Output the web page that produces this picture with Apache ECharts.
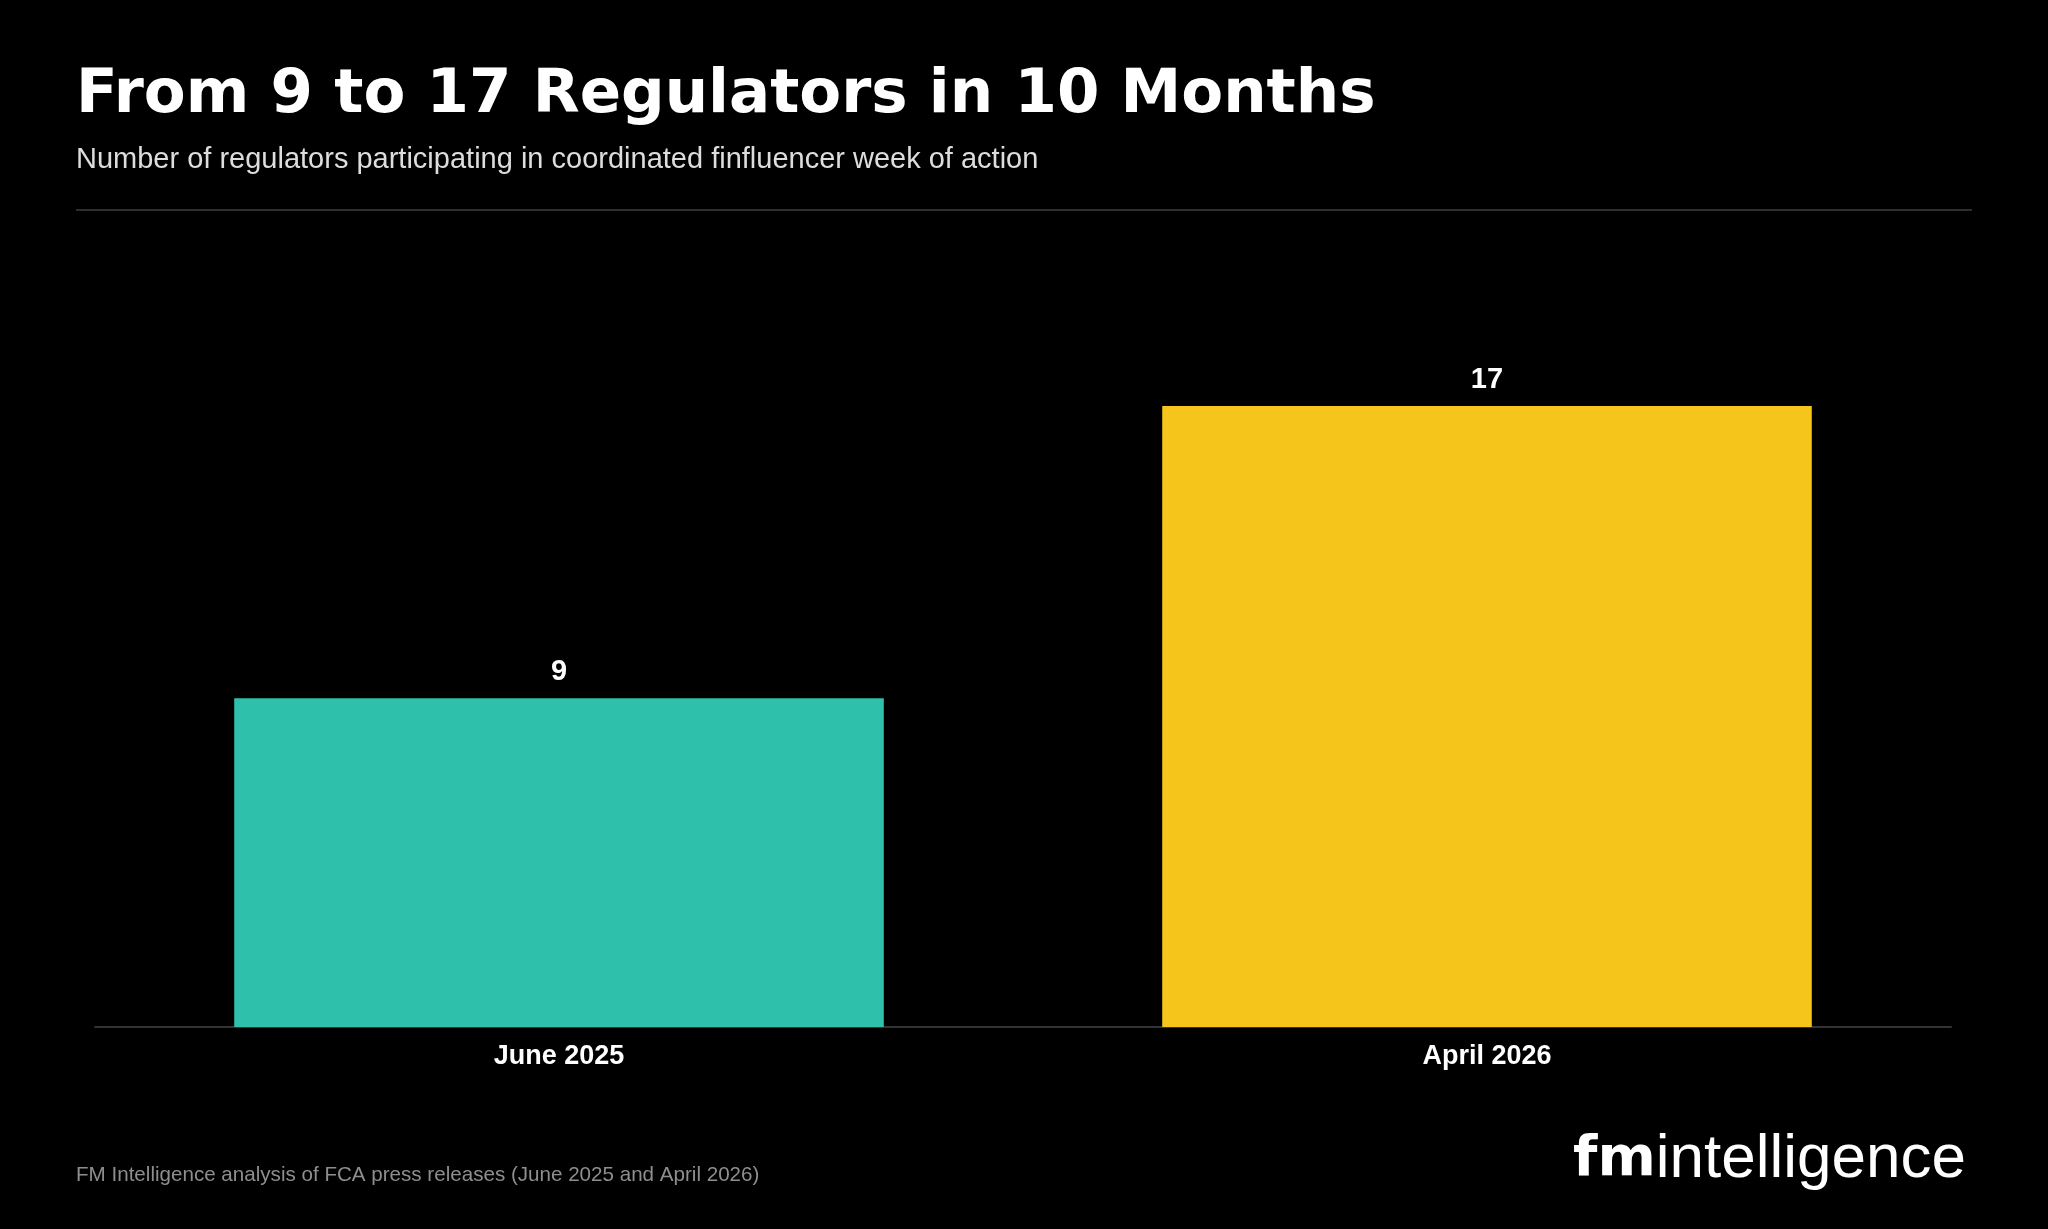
<!DOCTYPE html>
<html>
<head>
<meta charset="utf-8">
<script src="https://cdn.jsdelivr.net/npm/echarts@6/dist/echarts.min.js"></script>
<style>
  html, body { margin: 0; padding: 0; background: #000; }
  #chart { width: 2048px; height: 1229px; }
</style>
</head>
<body>
<div id="chart"></div>
<script>
// 数据
const categories = ['June 2025', 'April 2026'];
const regulatorCounts = [9, 17];
const barColors = ['#2EC0AA', '#F5C51C'];

const chart = echarts.init(document.getElementById('chart'));

const option = {
    backgroundColor: '#000',
    animation: false,
    title: {
        text: 'From 9 to 17 Regulators in 10 Months',
        subtext: 'Number of regulators participating in coordinated finfluencer week of action',
        left: 71,
        top: 61,
        itemGap: 18,
        textStyle: {
            color: '#fff',
            fontFamily: 'DejaVu Sans',
            fontWeight: 'bold',
            fontSize: 61
        },
        subtextStyle: {
            color: '#dddddd',
            fontFamily: 'Liberation Sans',
            fontSize: 29
        }
    },
    grid: {
        left: 95,
        right: 97,
        top: 406,
        bottom: 202
    },
    xAxis: {
        type: 'category',
        data: categories,
        axisTick: { show: false },
        axisLine: { lineStyle: { color: '#333', width: 2 } },
        axisLabel: {
            color: '#fff',
            fontFamily: 'Liberation Sans',
            fontWeight: 'bold',
            fontSize: 27,
            margin: 16
        }
    },
    yAxis: {
        type: 'value',
        min: 0,
        max: 17,
        show: false,
        splitLine: { show: false }
    },
    series: [{
        type: 'bar',
        barWidth: '70%',
        data: regulatorCounts.map((v, i) => ({
            value: v,
            itemStyle: { color: barColors[i] }
        })),
        label: {
            show: true,
            position: 'top',
            distance: 12,
            color: '#fff',
            fontFamily: 'Liberation Sans',
            fontWeight: 'bold',
            fontSize: 29
        }
    }],
    graphic: [
        // 标题下方分隔线
        {
            type: 'line',
            shape: { x1: 76, y1: 210, x2: 1972, y2: 210 },
            style: { stroke: '#2e2e2e', lineWidth: 2 }
        },
        // 来源说明
        {
            type: 'text',
            left: 76,
            top: 1165,
            style: {
                text: 'FM Intelligence analysis of FCA press releases (June 2025 and April 2026)',
                fill: '#8e8e8e',
                font: '20.6px "Liberation Sans"'
            }
        },
        // logo
        {
            type: 'text',
            right: 82,
            top: 1129,
            style: {
                text: '{a|fm}{b|intelligence}',
                rich: {
                    a: { fill: '#fff', fontFamily: 'DejaVu Sans', fontWeight: 'bold', fontSize: 56 },
                    b: { fill: '#fff', fontFamily: 'Liberation Sans', fontWeight: 'normal', fontSize: 62 }
                }
            }
        }
    ]
};

chart.setOption(option);
</script>
</body>
</html>
